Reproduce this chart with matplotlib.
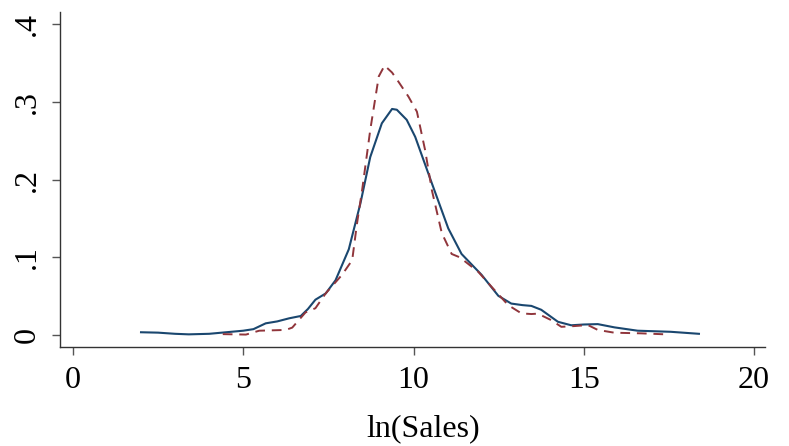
import matplotlib.pyplot as plt

# Kernel density estimates of ln(Sales)
x_solid = [2.0, 2.5, 3.0, 3.4, 4.0, 4.5, 5.0, 5.3, 5.66, 6.0, 6.35, 6.69, 6.9, 7.12, 7.42,
           7.71, 8.1, 8.44, 8.73, 9.07, 9.37, 9.51, 9.8, 10.05, 10.54, 11.02, 11.41, 12.0,
           12.49, 12.87, 13.2, 13.46, 13.75, 14.24, 14.63, 15.0, 15.41, 15.9, 16.58, 17.55, 18.38]
y_solid = [0.003, 0.0025, 0.001, 0.0003, 0.001, 0.003, 0.005, 0.007, 0.0145, 0.017, 0.021,
           0.024, 0.033, 0.045, 0.053, 0.07, 0.11, 0.169, 0.229, 0.2725, 0.291, 0.29, 0.277,
           0.255, 0.195, 0.137, 0.104, 0.077, 0.05, 0.04, 0.038, 0.037, 0.032, 0.0165, 0.012,
           0.013, 0.0135, 0.0093, 0.005, 0.0036, 0.001]

x_dash = [4.4, 5.08, 5.47, 6.25, 6.44, 6.83, 7.12, 7.42, 7.9, 8.2, 8.34, 8.49, 8.73, 8.98,
          9.15, 9.37, 9.56, 9.85, 10.1, 10.34, 10.54, 10.83, 11.12, 11.36, 11.9, 12.29,
          12.78, 13.17, 13.46, 13.65, 14.04, 14.34, 14.73, 15.12, 15.41, 15.9, 16.68, 17.41]
y_dash = [0.0006, 0.0, 0.005, 0.006, 0.009, 0.0286, 0.034, 0.053, 0.077, 0.096, 0.143, 0.186,
          0.264, 0.333, 0.347, 0.338, 0.326, 0.307, 0.2875, 0.238, 0.186, 0.131, 0.104,
          0.0996, 0.081, 0.0617, 0.038, 0.0273, 0.0265, 0.027, 0.0187, 0.01, 0.011, 0.0123,
          0.006, 0.0024, 0.0016, 0.0003]

x_ticks = [0, 5, 10, 15, 20]
y_ticks = [0, 0.1, 0.2, 0.3, 0.4]
y_ticklabels = ['0', '.1', '.2', '.3', '.4']

plt.rcParams['font.family'] = ['Liberation Serif', 'DejaVu Serif']

fig = plt.figure(figsize=(7.89, 4.46), dpi=100)
ax = fig.add_axes([0.076, 0.222, 0.8936, 0.751])

ax.plot(x_solid, y_solid, color='#1a476f', lw=1.5)
ax.plot(x_dash, y_dash, color='#90353b', lw=1.4, dashes=(5, 3.5))

ax.set_xlim(-0.38, 20.32)
ax.set_ylim(-0.016, 0.416)
ax.set_xticks(x_ticks)
ax.set_yticks(y_ticks)
ax.set_yticklabels(y_ticklabels, rotation=90, va='center')

for side in ['top', 'right']:
    ax.spines[side].set_visible(False)
for side in ['left', 'bottom']:
    ax.spines[side].set_color('#333333')
    ax.spines[side].set_linewidth(1.0)

ax.tick_params(axis='both', labelsize=23, length=6, width=1.0, color='#555555')
ax.tick_params(axis='x', pad=8)
ax.tick_params(axis='y', pad=7)

ax.set_xlabel('ln(Sales)', fontsize=23)
ax.xaxis.set_label_coords(0.515, -0.2)

fig.savefig('out.png', dpi=100)
